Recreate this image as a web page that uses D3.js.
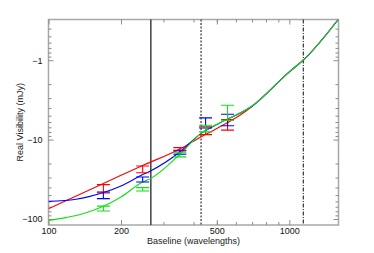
<!DOCTYPE html>
<html>
<head>
<meta charset="utf-8">
<script src="https://cdn.jsdelivr.net/npm/d3@7"></script>
<style>
  body { margin: 0; background: #fff; }
  svg { display: block; font-family: "Liberation Sans", Arial, sans-serif; }
  .axis path, .axis line { stroke: #8c8c8c; }
  .axis text { fill: #111; font-size: 9px; }
</style>
</head>
<body>
<svg id="chart" width="374" height="253"></svg>
<script>
// model curves (baseline in wavelengths, real visibility in mJy)
var redBase = [100, 169, 200, 246, 351, 429, 502, 623, 698, 1000, 1142, 1596];
var redVal  = [-74.1, -35.6, -28.2, -21.2, -13.1, -9.26, -7.2, -4.93, -3.85, -1.40, -1.0, -0.307];

var blueBase = [100, 130, 169, 200, 246, 265, 351, 429, 502, 698, 1000, 1142, 1596];
var blueVal  = [-59.9, -56.5, -46.5, -38.4, -27.6, -24.8, -14.3, -8.4, -6.4, -3.8, -1.40, -1.0, -0.307];

var greenBase = [100, 119, 139, 169, 200, 246, 265, 351, 429, 502, 698, 1000, 1142, 1596];
var greenVal  = [-104, -95.3, -85.7, -69.2, -52.8, -34.2, -31.0, -15.3, -8.4, -6.4, -3.8, -1.40, -1.0, -0.307];

// measured points with error bars
var pointBase = [169, 246, 351, 449, 554];
var redHi   = [-36.9, -21.5, -12.6, -6.9, -5.6];
var redLo   = [-47.0, -26.1, -13.9, -8.65, -7.6];
var blueHi  = [-45.7, -29.6, -13.6, -5.33, -4.8];
var blueLo  = [-55.4, -34.2, -15.3, -7.13, -6.7];
var greenHi = [-68.8, -40.3, -14.7, -6.6, -3.69];
var greenLo = [-79.2, -44.4, -16.5, -8.0, -5.71];

// vertical marker lines
var solidLine = 266;
var dashLine = 430;
var dashDotLine = 1143;

var xTicks = [100, 200, 500, 1000];
var yTicks = [-1, -10, -100];

var svg = d3.select("#chart");
var mLeft = 48.5, mTop = 19.5, w = 290, h = 205.5;

var x = d3.scaleLog().domain([100, 1600]).range([mLeft, mLeft + w]);
var y = d3.scaleLog().domain([-0.307, -119]).range([mTop, mTop + h]);

var xMinor = [];
[100, 1000].forEach(function (d) {
  for (var k = 2; k <= 9; k++) if (d * k < 1600) xMinor.push(d * k);
});
var yMinor = [];
[-0.1, -1, -10, -100].forEach(function (d) {
  for (var k = 2; k <= 9; k++) {
    var v = d * k;
    if (v < -0.307 && v > -119) yMinor.push(v);
  }
});

function fmtY(d) { return String(d).replace("-", "\u2212"); }

// frame
svg.append("rect")
  .attr("x", mLeft).attr("y", mTop).attr("width", w).attr("height", h)
  .attr("fill", "none").attr("stroke", "#a8a8a8").attr("stroke-width", 1.5);

// axes, ticks pointing inward
svg.append("g").attr("class", "axis").attr("transform", "translate(0," + (mTop + h) + ")")
  .call(d3.axisBottom(x).tickValues(xTicks).tickFormat(d3.format("d")).tickSize(-5).tickSizeOuter(0).tickPadding(3));
svg.append("g").attr("class", "axis").attr("transform", "translate(0," + (mTop + h) + ")")
  .call(d3.axisBottom(x).tickValues(xMinor).tickFormat("").tickSize(-3).tickSizeOuter(0));
svg.append("g").attr("class", "axis").attr("transform", "translate(0," + mTop + ")")
  .call(d3.axisTop(x).tickValues(xTicks).tickFormat("").tickSize(-5).tickSizeOuter(0));
svg.append("g").attr("class", "axis").attr("transform", "translate(0," + mTop + ")")
  .call(d3.axisTop(x).tickValues(xMinor).tickFormat("").tickSize(-3).tickSizeOuter(0));

svg.append("g").attr("class", "axis").attr("transform", "translate(" + mLeft + ",0)")
  .call(d3.axisLeft(y).tickValues(yTicks).tickFormat(fmtY).tickSize(-5).tickSizeOuter(0).tickPadding(6));
svg.append("g").attr("class", "axis").attr("transform", "translate(" + mLeft + ",0)")
  .call(d3.axisLeft(y).tickValues(yMinor).tickFormat("").tickSize(-3).tickSizeOuter(0));
svg.append("g").attr("class", "axis").attr("transform", "translate(" + (mLeft + w) + ",0)")
  .call(d3.axisRight(y).tickValues(yTicks).tickFormat("").tickSize(-5).tickSizeOuter(0));
svg.append("g").attr("class", "axis").attr("transform", "translate(" + (mLeft + w) + ",0)")
  .call(d3.axisRight(y).tickValues(yMinor).tickFormat("").tickSize(-3).tickSizeOuter(0));
svg.selectAll(".axis path.domain").remove();

// vertical lines
var vlines = [
  { b: solidLine, dash: null, color: "#333", width: 1.4 },
  { b: dashLine, dash: "2,1.5", color: "#333", width: 1.2 },
  { b: dashDotLine, dash: "4,1.5,1,1.5", color: "#333", width: 1.2 }
];
vlines.forEach(function (v) {
  svg.append("line")
    .attr("x1", x(v.b)).attr("x2", x(v.b))
    .attr("y1", mTop).attr("y2", mTop + h)
    .attr("stroke", v.color).attr("stroke-width", v.width)
    .attr("stroke-dasharray", v.dash);
});

svg.append("clipPath").attr("id", "plotclip")
  .append("rect").attr("x", mLeft).attr("y", mTop).attr("width", w).attr("height", h);

var plot = svg.append("g").attr("clip-path", "url(#plotclip)");

var line = d3.line()
  .x(function (d) { return x(d[0]); })
  .y(function (d) { return y(d[1]); })
  .curve(d3.curveMonotoneX);

var series = [
  { base: redBase, val: redVal, hi: redHi, lo: redLo, color: "#ff0000" },
  { base: blueBase, val: blueVal, hi: blueHi, lo: blueLo, color: "#0000ff" },
  { base: greenBase, val: greenVal, hi: greenHi, lo: greenLo, color: "#11e011" }
];

series.forEach(function (s) {
  plot.append("path")
    .datum(d3.zip(s.base, s.val))
    .attr("fill", "none").attr("stroke", s.color).attr("stroke-width", 1.1)
    .attr("d", line);
});

var cap = 6.5;
series.forEach(function (s) {
  var g = plot.append("g").attr("stroke", s.color).attr("stroke-width", 1.1).attr("fill", "none");
  pointBase.forEach(function (b, i) {
    var px = x(b);
    g.append("line").attr("x1", px).attr("x2", px).attr("y1", y(s.hi[i])).attr("y2", y(s.lo[i]));
    g.append("line").attr("x1", px - cap).attr("x2", px + cap).attr("y1", y(s.hi[i])).attr("y2", y(s.hi[i]));
    g.append("line").attr("x1", px - cap).attr("x2", px + cap).attr("y1", y(s.lo[i])).attr("y2", y(s.lo[i]));
  });
});

// axis titles
svg.append("text")
  .attr("x", mLeft + w / 2).attr("y", 244)
  .attr("text-anchor", "middle").attr("font-size", 9).attr("fill", "#222")
  .text("Baseline (wavelengths)");
svg.append("text")
  .attr("transform", "translate(23," + (mTop + h / 2) + ") rotate(-90)")
  .attr("text-anchor", "middle").attr("font-size", 9).attr("fill", "#222")
  .text("Real Visibility (mJy)");
</script>
</body>
</html>
